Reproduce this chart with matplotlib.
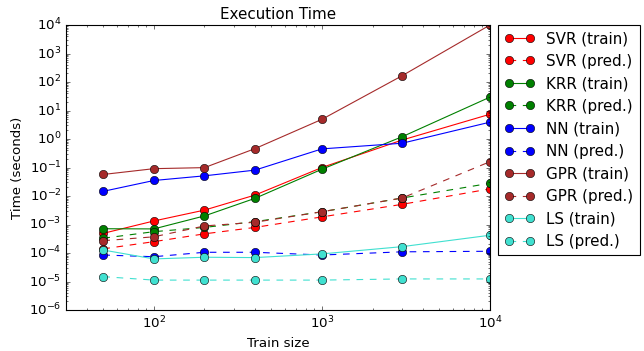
import matplotlib
matplotlib.use("Agg")
import matplotlib.pyplot as plt

plt.style.use("classic")

train_sizes = [50, 100, 200, 400, 1000, 3000, 10000]

svr_train = [4.9e-4, 1.33e-3, 3.2e-3, 1.08e-2, 0.10, 0.92, 7.4]
svr_pred = [1.4e-4, 2.5e-4, 4.7e-4, 7.9e-4, 1.85e-3, 5.1e-3, 1.78e-2]
krr_train = [7.1e-4, 7.0e-4, 2.0e-3, 8.3e-3, 0.087, 1.2, 29.5]
krr_pred = [3.3e-4, 5.6e-4, 7.9e-4, 1.26e-3, 2.8e-3, 8.5e-3, 2.8e-2]
nn_train = [1.46e-2, 3.5e-2, 5.1e-2, 8.1e-2, 0.45, 0.71, 3.9]
nn_pred = [8.5e-5, 7.4e-5, 1.06e-4, 1.06e-4, 8.5e-5, 1.1e-4, 1.15e-4]
gpr_train = [5.7e-2, 9.1e-2, 9.9e-2, 0.46, 4.9, 166.0, 10000.0]
gpr_pred = [2.7e-4, 3.7e-4, 8.9e-4, 1.2e-3, 2.8e-3, 8.5e-3, 0.16]
ls_train = [1.27e-4, 6.2e-5, 7.1e-5, 6.9e-5, 9.3e-5, 1.67e-4, 4.2e-4]
ls_pred = [1.48e-5, 1.12e-5, 1.12e-5, 1.12e-5, 1.12e-5, 1.23e-5, 1.23e-5]

series = [
    ("SVR", svr_train, svr_pred, "r"),
    ("KRR", krr_train, krr_pred, "g"),
    ("NN", nn_train, nn_pred, "b"),
    ("GPR", gpr_train, gpr_pred, "brown"),
    ("LS", ls_train, ls_pred, "turquoise"),
]

fig = plt.figure(figsize=(644 / 80, 351 / 80), dpi=80)
fig.patch.set_facecolor("white")
ax = fig.add_axes([66 / 644, 1 - 310 / 351, (490 - 66) / 644, (310 - 25) / 351])

for name, tr, pr, c in series:
    ax.plot(train_sizes, tr, "o-", color=c, markersize=7.5, label=name + " (train)")
    ax.plot(train_sizes, pr, "o--", color=c, markersize=7.5, label=name + " (pred.)")

ax.set_xscale("log")
ax.set_yscale("log")
ax.set_xlim(30, 1e4)
ax.set_ylim(1e-6, 1e4)
ax.set_xlabel("Train size")
ax.set_ylabel("Time (seconds)")
ax.set_title("Execution Time", fontsize=13.6)
ax.legend(loc="upper left", bbox_to_anchor=(498 / 644, 1 - 25 / 351),
          bbox_transform=fig.transFigure, borderaxespad=0, fontsize=13.6,
          labelspacing=0.5)

fig.savefig("out.png", dpi=80, facecolor="white")
